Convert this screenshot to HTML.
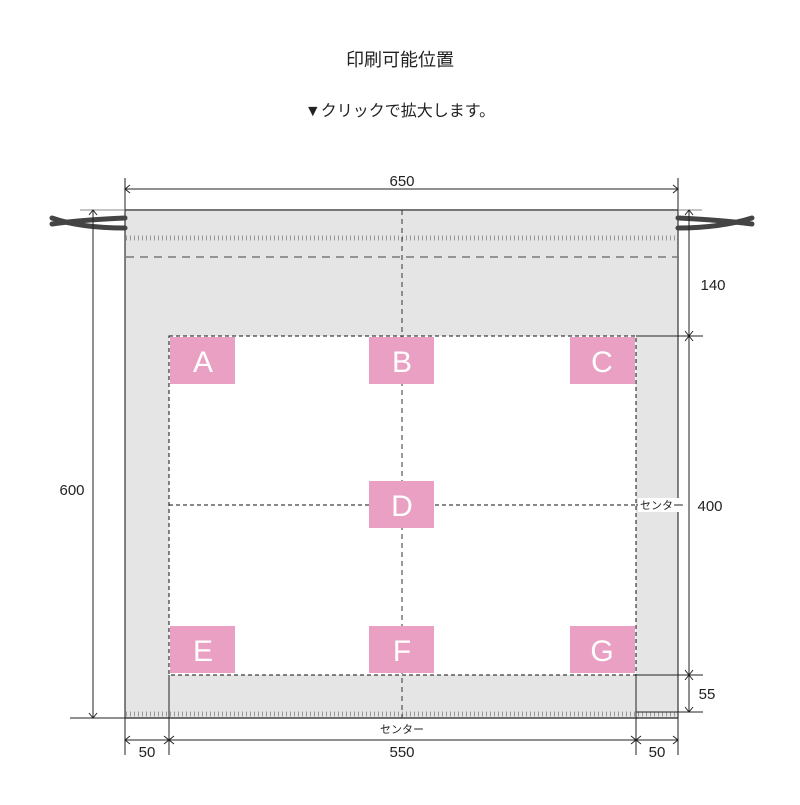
<!DOCTYPE html>
<html><head><meta charset="utf-8"><style>
body{margin:0;background:#fff;width:800px;height:800px;overflow:hidden}
text{font-family:"Liberation Sans","Noto Sans CJK JP",sans-serif;fill:#222}
</style></head><body>
<svg width="800" height="800" viewBox="0 0 800 800">
<text x="400" y="66" font-size="18" text-anchor="middle">印刷可能位置</text>
<text x="400" y="116" font-size="16" text-anchor="middle">▼クリックで拡大します。</text>
<rect x="125" y="210" width="553" height="508" fill="#e5e5e5"/>
<rect x="169" y="336" width="467" height="339" fill="#fff"/>
<line x1="125" y1="210" x2="678" y2="210" stroke="#777" stroke-width="2"/>
<line x1="125" y1="718" x2="678" y2="718" stroke="#444" stroke-width="1.5"/>
<line x1="125" y1="210" x2="125" y2="718" stroke="#333" stroke-width="1.2"/>
<line x1="678" y1="210" x2="678" y2="718" stroke="#333" stroke-width="1.2"/>
<line x1="126" y1="238" x2="677" y2="238" stroke="#999" stroke-width="5" stroke-dasharray="1 3"/>
<line x1="126" y1="714" x2="677" y2="714" stroke="#999" stroke-width="5" stroke-dasharray="1 3"/>
<line x1="126" y1="257" x2="677" y2="257" stroke="#444" stroke-dasharray="8 6"/>
<line x1="402" y1="210" x2="402" y2="718" stroke="#333" stroke-dasharray="5 4"/>
<rect x="169" y="336" width="467" height="339" fill="none" stroke="#111" stroke-dasharray="4 3"/>
<line x1="169" y1="505" x2="636" y2="505" stroke="#111" stroke-dasharray="4 3"/>
<g stroke="#444" stroke-width="5" fill="none" stroke-linecap="round">
<path d="M125 218 Q80 220 52 224"/><path d="M125 228 Q80 228 52 218"/>
<path d="M678 218 Q720 220 752 224"/><path d="M678 228 Q720 228 752 218"/>
</g>
<g fill="#eaa0c3">
<rect x="170" y="337" width="65" height="47"/><rect x="369" y="337" width="65" height="47"/><rect x="570" y="337" width="65" height="47"/>
<rect x="369" y="481" width="65" height="47"/>
<rect x="170" y="626" width="65" height="47"/><rect x="369" y="626" width="65" height="47"/><rect x="570" y="626" width="65" height="47"/>
</g>
<g font-size="30" text-anchor="middle">
<text x="203" y="372" style="fill:#fff">A</text><text x="402" y="372" style="fill:#fff">B</text><text x="602" y="372" style="fill:#fff">C</text>
<text x="402" y="516" style="fill:#fff">D</text>
<text x="203" y="661" style="fill:#fff">E</text><text x="402" y="661" style="fill:#fff">F</text><text x="602" y="661" style="fill:#fff">G</text>
</g>
<g stroke="#222" stroke-width="1" fill="none">
<line x1="125" y1="178" x2="125" y2="210"/><line x1="678" y1="178" x2="678" y2="210"/>
<line x1="125" y1="189" x2="678" y2="189"/>
<path d="M130 185 L125 189 L130 193 M673 185 L678 189 L673 193"/>
<line x1="80" y1="210" x2="125" y2="210" stroke="#888"/>
<line x1="70" y1="718" x2="125" y2="718"/>
<line x1="93" y1="210" x2="93" y2="718"/>
<path d="M89 215 L93 210 L97 215 M89 713 L93 718 L97 713"/>
<line x1="678" y1="210" x2="702" y2="210" stroke="#888"/>
<line x1="636" y1="336" x2="703" y2="336"/><line x1="636" y1="675" x2="703" y2="675"/><line x1="636" y1="712" x2="703" y2="712"/>
<line x1="689" y1="210" x2="689" y2="712"/>
<path d="M685 215 L689 210 L693 215 M685 331 L689 336 L693 331 M685 341 L689 336 L693 341 M685 670 L689 675 L693 670 M685 680 L689 675 L693 680 M685 707 L689 712 L693 707"/>
<line x1="636" y1="505" x2="686" y2="505"/>
<line x1="125" y1="718" x2="125" y2="755"/><line x1="169" y1="675" x2="169" y2="755"/>
<line x1="636" y1="675" x2="636" y2="755"/><line x1="678" y1="718" x2="678" y2="755"/>
<line x1="125" y1="740" x2="678" y2="740"/>
<path d="M130 736 L125 740 L130 744 M164 736 L169 740 L164 744 M174 736 L169 740 L174 744 M631 736 L636 740 L631 744 M641 736 L636 740 L641 744 M673 736 L678 740 L673 744"/>
</g>
<rect x="638" y="498" width="48" height="14" fill="#fff"/>
<text x="662" y="509" font-size="11" text-anchor="middle">センター</text>
<rect x="375" y="722" width="54" height="14" fill="#fff"/>
<text x="402" y="733" font-size="11" text-anchor="middle">センター</text>
<g font-size="15" text-anchor="middle">
<text x="402" y="186">650</text>
<text x="72" y="495">600</text>
<text x="713" y="290">140</text>
<text x="710" y="511">400</text>
<text x="707" y="699">55</text>
<text x="147" y="757">50</text>
<text x="402" y="757">550</text>
<text x="657" y="757">50</text>
</g>
</svg>
</body></html>
